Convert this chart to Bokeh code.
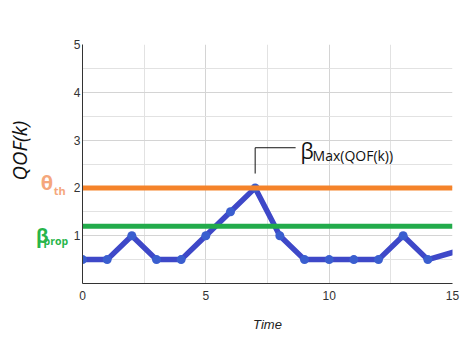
import math
from bokeh.plotting import figure
from bokeh.layouts import row
from bokeh.models import Range1d, FixedTicker, Label
from bokeh.embed import file_html
from bokeh.resources import INLINE

# ---- data ----
time = [0, 1, 2, 3, 4, 5, 6, 7, 8, 9, 10, 11, 12, 13, 14, 15]
qof = [0.5, 0.5, 1.0, 0.5, 0.5, 1.0, 1.5, 2.0, 1.0, 0.5, 0.5, 0.5, 0.5, 1.0, 0.5, 0.65]
marker_time = time[:15]
marker_qof = qof[:15]
theta_th = 2.0
beta_prop = 1.2
x_ticks = [0, 5, 10, 15]
x_minor = [2.5, 7.5, 12.5]
y_ticks = [1, 2, 3, 4, 5]
y_minor = [0.5, 1.5, 2.5, 3.5, 4.5]

BLUE = "#3e48c8"
MARK = "#3a5ecf"
ORANGE = "#f5832a"
GREEN = "#22ab4b"
THETA_C = "#f5a77c"
BETA_C = "#27b54a"

H = 337
TOP = 44
BOTTOM = 54
LW = 69

yr = Range1d(0, 5)

# ---- main plot ----
p = figure(width=462 - LW, height=H, output_backend="svg", toolbar_location=None,
           x_range=Range1d(0, 15), y_range=yr,
           min_border_left=13, min_border_right=10, min_border_top=TOP, min_border_bottom=BOTTOM)
p.outline_line_color = None
p.background_fill_color = "white"
p.border_fill_color = "white"

p.xaxis.ticker = FixedTicker(ticks=x_ticks, minor_ticks=x_minor)
p.yaxis.ticker = FixedTicker(ticks=y_ticks, minor_ticks=y_minor)
for ax in (p.xaxis, p.yaxis):
    ax.major_tick_line_color = None
    ax.minor_tick_line_color = None
    ax.major_tick_out = 0
    ax.major_tick_in = 0
    ax.minor_tick_out = 0
    ax.minor_tick_in = 0
    ax.axis_line_color = "#333333"
    ax.axis_line_width = 1
    ax.major_label_text_font = "Liberation Sans"
    ax.major_label_text_font_size = "12px"
    ax.major_label_text_color = "#333333"
p.xaxis.major_label_standoff = 7
p.yaxis.major_label_standoff = 2
p.xaxis.axis_label = "Time"
p.xaxis.axis_label_text_font = "Liberation Sans"
p.xaxis.axis_label_text_font_style = "italic"
p.xaxis.axis_label_text_font_size = "13px"
p.xaxis.axis_label_text_color = "#222222"
p.xaxis.axis_label_standoff = 14

for g in (p.xgrid, p.ygrid):
    g.grid_line_color = "#d4d4d4"
    g.minor_grid_line_color = "#e2e2e2"
    g.grid_line_width = 1

p.line(time, qof, line_color=BLUE, line_width=5.5, line_join="round", line_cap="round")
p.scatter(marker_time, marker_qof, size=9, fill_color=MARK, line_color=None)

p.line([0, 15], [theta_th, theta_th], line_color=ORANGE, line_width=5)
p.line([0, 15], [beta_prop, beta_prop], line_color=GREEN, line_width=5)

# leader line for the max annotation
imax = qof.index(max(qof))
p.line([time[imax], time[imax], 8.64], [2.3, 2.84, 2.84], line_color="#111111", line_width=1)

p.add_layout(Label(x=8.84, y=2.776, text="β", text_font="Open Sans",
                   text_font_size="21px", text_color="#111111",
                   text_align="left", text_baseline="alphabetic"))
p.add_layout(Label(x=8.84, y=2.678, x_offset=12, text="Max(QOF(k))", text_font="Open Sans",
                   text_font_size="14px", text_color="#111111",
                   text_align="left", text_baseline="alphabetic"))

# ---- left strip holding the y title and the threshold labels ----
L = figure(width=LW, height=H, output_backend="svg", toolbar_location=None,
           x_range=Range1d(0, LW), y_range=yr, x_axis_type=None, y_axis_type=None,
           min_border_left=0, min_border_right=0, min_border_top=TOP, min_border_bottom=BOTTOM)
L.outline_line_color = None
L.xgrid.visible = False
L.ygrid.visible = False
L.background_fill_color = "white"
L.border_fill_color = "white"

L.add_layout(Label(x=19, y=2.78, text="QOF(k)", angle=math.pi / 2,
                   text_font="Open Sans", text_font_style="italic", text_font_size="20px",
                   text_color="#111111", text_align="center", text_baseline="middle"))
L.add_layout(Label(x=52.7, y=2.105, text="θ", text_font="Open Sans",
                   text_font_style="bold", text_font_size="20px", text_color=THETA_C,
                   text_align="right", text_baseline="alphabetic"))
L.add_layout(Label(x=53.3, y=1.94, text="th", text_font="Open Sans",
                   text_font_style="bold", text_font_size="11px", text_color=THETA_C,
                   text_align="left", text_baseline="alphabetic"))
L.add_layout(Label(x=35.5, y=1.0, text="β", text_font="Open Sans",
                   text_font_style="bold", text_font_size="19px", text_color=BETA_C,
                   text_align="left", text_baseline="alphabetic"))
L.add_layout(Label(x=43.0, y=0.88, text="prop", text_font="Open Sans",
                   text_font_style="bold", text_font_size="10.5px", text_color=BETA_C,
                   text_align="left", text_baseline="alphabetic"))

layout = row(L, p)
open("out.html", "w").write(file_html(layout, INLINE))
